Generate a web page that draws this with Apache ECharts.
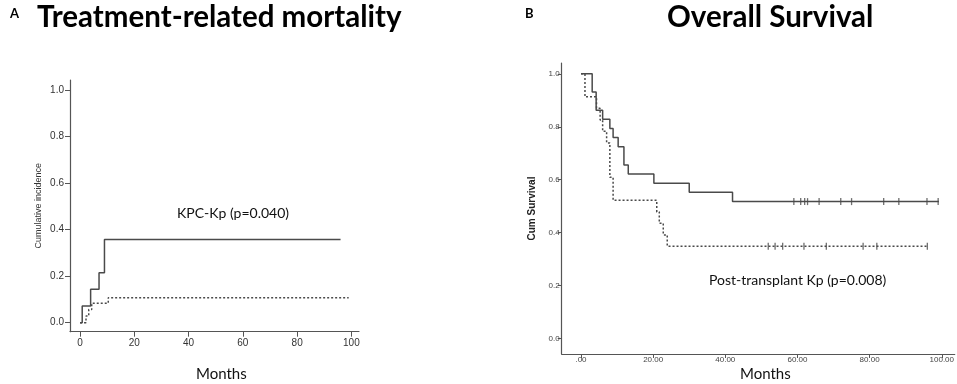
<!DOCTYPE html>
<html><head><meta charset="utf-8">
<script src="https://cdn.jsdelivr.net/npm/echarts@6/dist/echarts.min.js"></script>
<style>html,body{margin:0;padding:0;background:#fff}#c{width:957px;height:384px}</style>
</head><body><div id="c"></div>
<script>
// Panel A: treatment-related mortality (cumulative incidence)
const trmSolidX = [0, 0.8, 3.9, 7.0, 9.0, 96];
const trmSolidY = [0, 0.071, 0.143, 0.214, 0.357, 0.357];
const trmDashX = [0, 2.2, 3.2, 4.3, 10.4, 99];
const trmDashY = [0, 0.028, 0.056, 0.083, 0.107, 0.107];
const trmXTicks = [0, 20, 40, 60, 80, 100];
const trmYTicks = [0, 0.2, 0.4, 0.6, 0.8, 1.0];
// Panel B: overall survival (Kaplan-Meier)
const osSolidX = [0, 3.1, 4.2, 6.0, 8.0, 8.9, 10.3, 11.9, 13.1, 20.2, 30.0, 42.0, 99.2];
const osSolidY = [1, 0.931, 0.862, 0.828, 0.793, 0.759, 0.724, 0.655, 0.621, 0.586, 0.552, 0.517, 0.517];
const osSolidCensor = [59.0, 60.9, 62.0, 62.8, 66.0, 72.0, 75.0, 83.9, 88.1, 95.9, 99.0];
const osDashX = [0, 1.1, 4.3, 5.3, 6.0, 7.1, 8.0, 8.9, 21.0, 21.7, 22.8, 23.9, 96.0];
const osDashY = [1, 0.913, 0.870, 0.826, 0.783, 0.739, 0.609, 0.522, 0.478, 0.435, 0.391, 0.348, 0.348];
const osDashCensor = [51.9, 53.8, 55.9, 61.8, 68.0, 78.2, 82.0, 96.0];
const osXTicks = [0, 20, 40, 60, 80, 100];
const osYTicks = [0, 0.2, 0.4, 0.6, 0.8, 1.0];

const zip = (xs, ys) => xs.map((x, i) => [x, ys[i]]);
const LINE = '#4a4a4a', AX = '#555';
const chart = echarts.init(document.getElementById('c'));
const fmtB = v => v === 0 ? '.00' : v.toFixed(2);
chart.setOption({
  animation: false,
  grid: [
    {left: 70, top: 80, width: 289, height: 251.7},
    {left: 561.7, top: 63, width: 393.3, height: 291}
  ],
  xAxis: [
    {gridIndex: 0, type: 'value', min: -3.7, max: 102.8, splitLine: {show: false},
     axisLine: {onZero: false, lineStyle: {color: AX, width: 1.2}},
     axisTick: {customValues: trmXTicks, length: 5, lineStyle: {color: AX}},
     axisLabel: {customValues: trmXTicks, color: '#333', fontSize: 10, margin: 7, fontFamily: 'Liberation Sans'}},
    {gridIndex: 1, type: 'value', min: -5.35, max: 103.6, splitLine: {show: false},
     axisLine: {onZero: false, lineStyle: {color: AX, width: 1.2}},
     axisTick: {customValues: osXTicks, length: 4, lineStyle: {color: AX}},
     axisLabel: {customValues: osXTicks, formatter: fmtB, color: '#444', fontSize: 8, margin: 2, fontFamily: 'Liberation Sans'}}
  ],
  yAxis: [
    {gridIndex: 0, type: 'value', min: -0.039, max: 1.043, splitLine: {show: false},
     axisLine: {show: true, onZero: false, lineStyle: {color: AX, width: 1.2}},
     axisTick: {show: true, customValues: trmYTicks, length: 5, lineStyle: {color: AX}},
     axisLabel: {customValues: trmYTicks, formatter: v => v.toFixed(1), color: '#333', fontSize: 10, margin: 6, fontFamily: 'Liberation Sans'},
     name: 'Cumulative incidence', nameLocation: 'middle', nameGap: 27,
     nameTextStyle: {color: '#333', fontSize: 9, fontFamily: 'Liberation Sans'}},
    {gridIndex: 1, type: 'value', min: -0.059, max: 1.041, splitLine: {show: false},
     axisLine: {show: true, onZero: false, lineStyle: {color: AX, width: 1.2}},
     axisTick: {show: true, customValues: osYTicks, length: 4, lineStyle: {color: AX}},
     axisLabel: {customValues: osYTicks, formatter: v => v.toFixed(1), color: '#444', fontSize: 8, margin: 2, fontFamily: 'Liberation Sans'},
     name: 'Cum Survival', nameLocation: 'middle', nameGap: 24,
     nameTextStyle: {color: '#222', fontSize: 10, fontWeight: 'bold', fontFamily: 'Liberation Sans'}}
  ],
  series: [
    {type: 'line', xAxisIndex: 0, yAxisIndex: 0, step: 'end', symbol: 'none', data: zip(trmSolidX, trmSolidY),
     lineStyle: {color: LINE, width: 1.5}},
    {type: 'line', xAxisIndex: 0, yAxisIndex: 0, step: 'end', symbol: 'none', data: zip(trmDashX, trmDashY),
     lineStyle: {color: LINE, width: 1.5, type: [2, 2]}},
    {type: 'line', xAxisIndex: 1, yAxisIndex: 1, step: 'end', symbol: 'none', data: zip(osSolidX, osSolidY),
     lineStyle: {color: LINE, width: 1.5}},
    {type: 'line', xAxisIndex: 1, yAxisIndex: 1, step: 'end', symbol: 'none', data: zip(osDashX, osDashY),
     lineStyle: {color: LINE, width: 1.5, type: [2, 2]}},
    {type: 'scatter', xAxisIndex: 1, yAxisIndex: 1, symbol: 'rect', symbolSize: [1.3, 7],
     itemStyle: {color: LINE}, data: osSolidCensor.map(x => [x, osSolidY[osSolidY.length - 1]])},
    {type: 'scatter', xAxisIndex: 1, yAxisIndex: 1, symbol: 'rect', symbolSize: [1.3, 7],
     itemStyle: {color: LINE}, data: osDashCensor.map(x => [x, osDashY[osDashY.length - 1]])}
  ],
  graphic: [
    {type: 'text', left: 10, top: 7, style: {text: 'A', font: 'bold 13px Lato', fill: '#000'}},
    {type: 'text', left: 37, top: 2, style: {text: 'Treatment-related mortality', font: 'bold 29.5px Lato', fill: '#000'}},
    {type: 'text', left: 525, top: 7, style: {text: 'B', font: 'bold 13px Lato', fill: '#000'}},
    {type: 'text', left: 667, top: 2, style: {text: 'Overall Survival', font: 'bold 29.5px Lato', fill: '#000'}},
    {type: 'text', left: 177, top: 206, style: {text: 'KPC-Kp (p=0.040)', font: '14px Lato', fill: '#111'}},
    {type: 'text', left: 709, top: 273, style: {text: 'Post-transplant Kp (p=0.008)', font: '14px Lato', fill: '#111'}},
    {type: 'text', left: 196, top: 367, style: {text: 'Months', font: '15px Lato', fill: '#111'}},
    {type: 'text', left: 740, top: 367, style: {text: 'Months', font: '15px Lato', fill: '#111'}}
  ]
});
</script></body></html>
